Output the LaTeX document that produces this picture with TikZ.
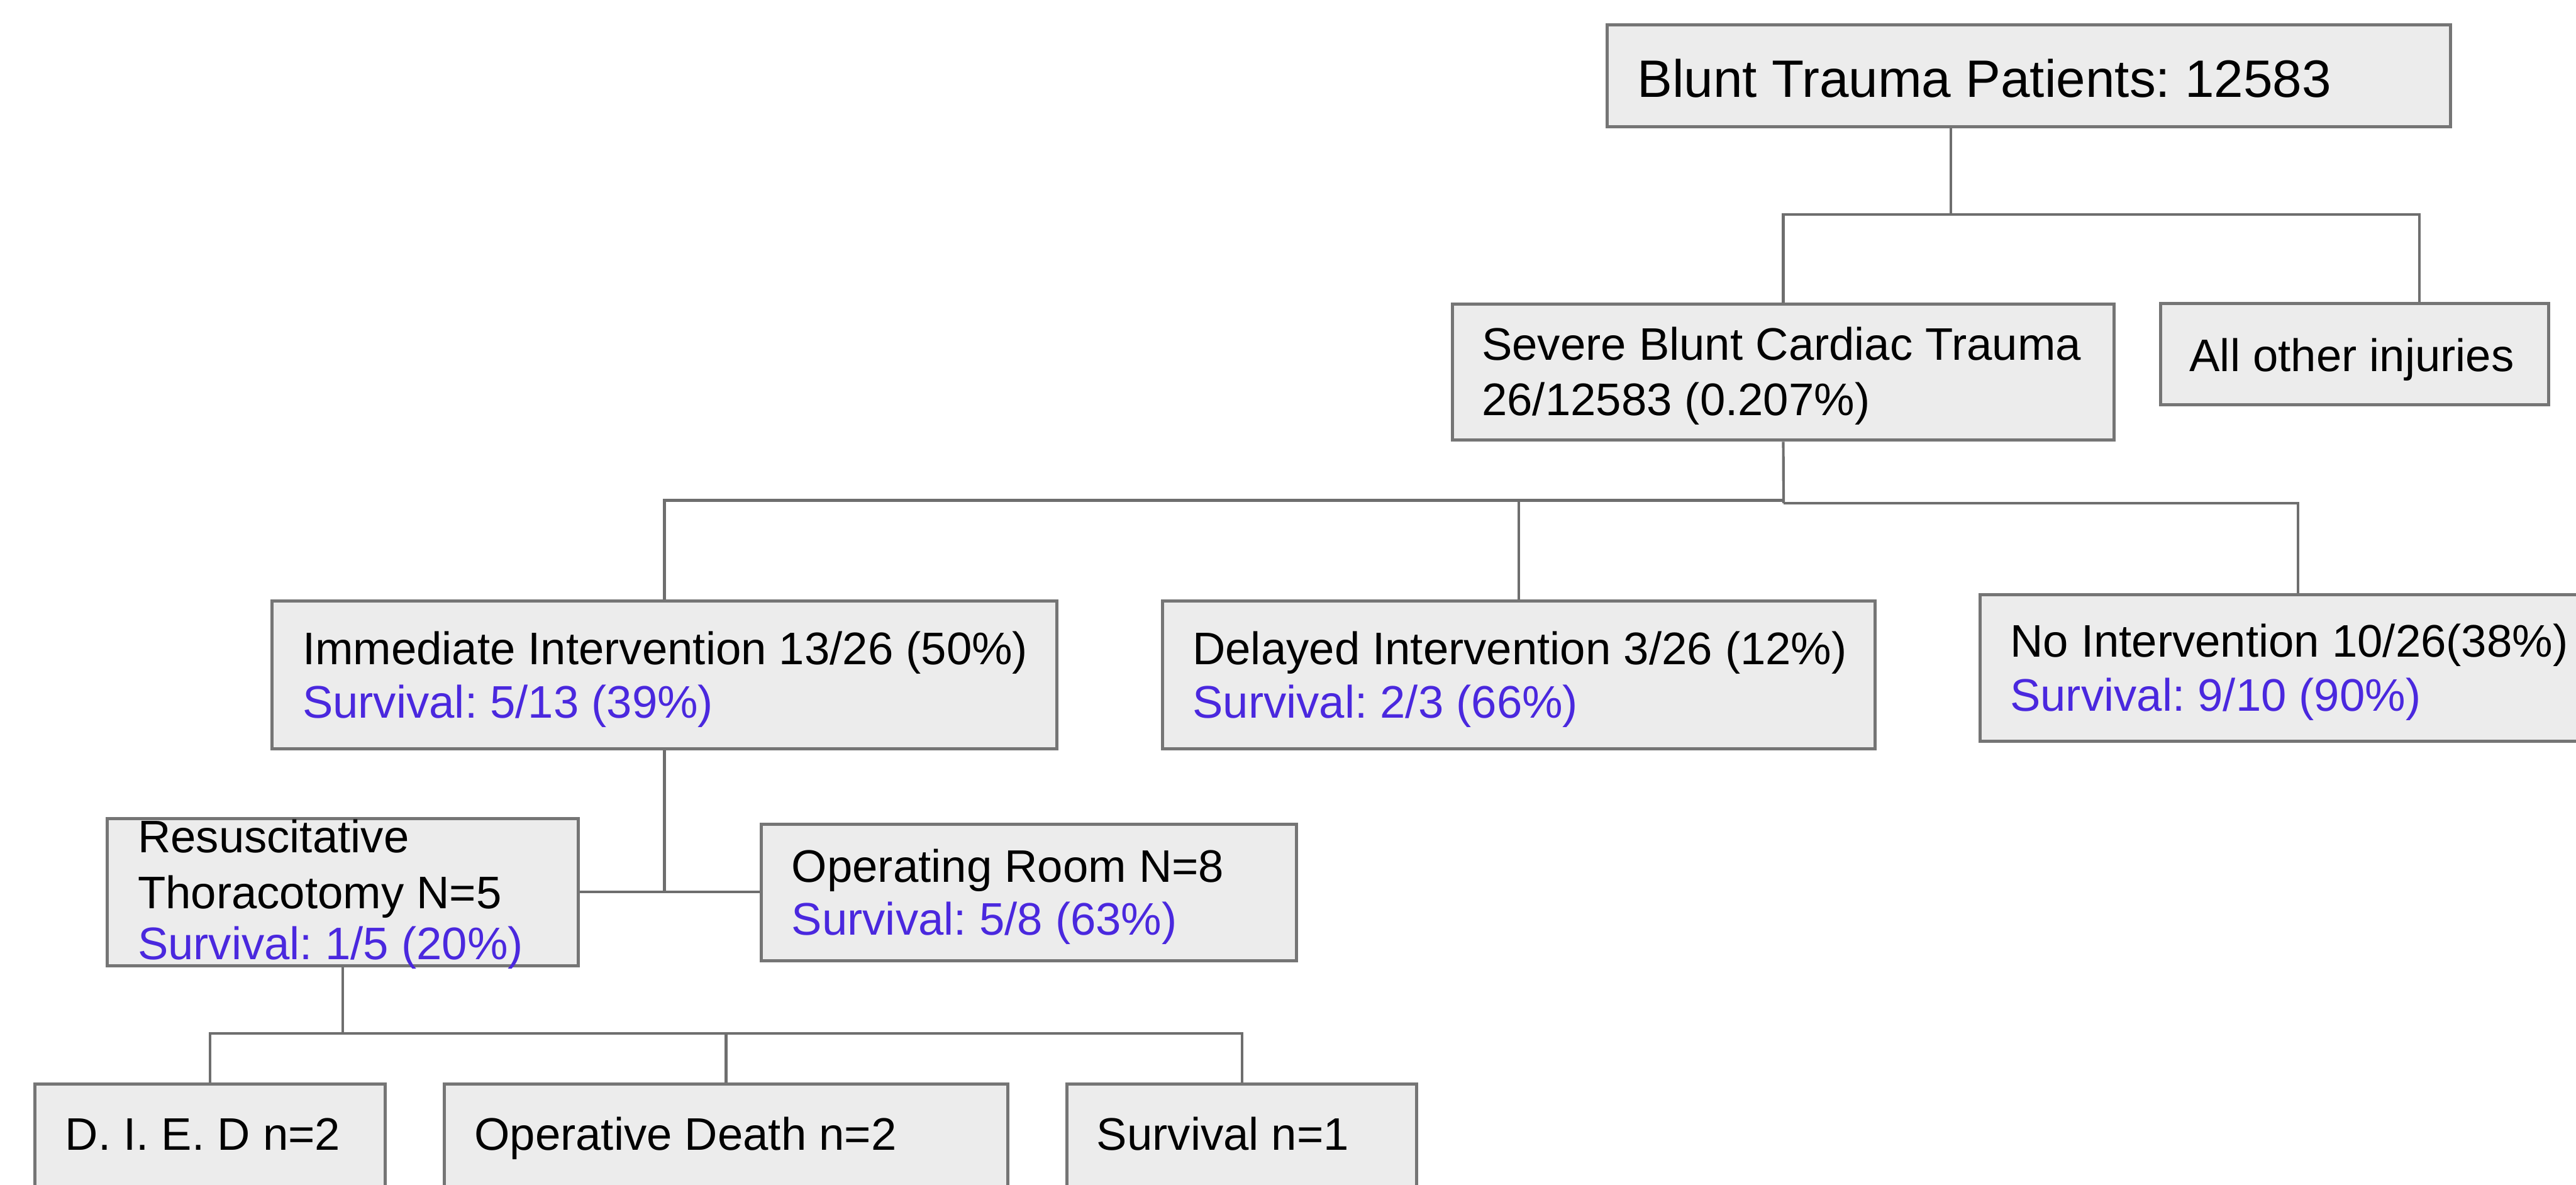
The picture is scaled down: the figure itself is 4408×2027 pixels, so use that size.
\documentclass[tikz,border=0pt]{standalone}
\usepackage{fontspec}
\setmainfont{Liberation Sans}
\usetikzlibrary{calc}
\definecolor{boxfill}{HTML}{ECECEC}
\definecolor{boxline}{HTML}{757575}
\definecolor{connline}{HTML}{6E6E6E}
\definecolor{survblue}{RGB}{74,40,222}
\frenchspacing
\tikzset{
  x=0.01cm, y=-0.01cm,
  flowbox/.style={draw=boxline, fill=boxfill, line width=0.055cm, inner sep=0pt, rectangle},
  conn/.style={draw=connline, line width=0.045cm},
  txt/.style={anchor=base west, inner sep=0pt, font=\fontsize{22.2pt}{26.2pt}\selectfont, text=black},
  bigtxt/.style={anchor=base west, inner sep=0pt, font=\fontsize{25.6pt}{30pt}\selectfont, text=black},
  surv/.style={txt, text=survblue}
}
\begin{document}
\begin{tikzpicture}
\frenchspacing
\useasboundingbox (0,0) rectangle (4408,2027);
% boxes
\node[flowbox, minimum width=14.42cm, minimum height=1.74cm] (top) at (3472,130) {};
\node[flowbox, minimum width=11.31cm, minimum height=2.33cm] (sev) at (3051.5,636.5) {};
\node[flowbox, minimum width=6.64cm, minimum height=1.73cm] (oth) at (4029,605.5) {};
\node[flowbox, minimum width=13.42cm, minimum height=2.53cm] (imm) at (1137,1154.5) {};
\node[flowbox, minimum width=12.18cm, minimum height=2.53cm] (del) at (2599,1154.5) {};
\node[flowbox, minimum width=10.71cm, minimum height=2.50cm] (noint) at (3924.5,1143) {};
\node[flowbox, minimum width=8.05cm, minimum height=2.51cm] (res) at (586.5,1526.5) {};
\node[flowbox, minimum width=9.15cm, minimum height=2.34cm] (orm) at (1760.5,1527) {};
\node[flowbox, minimum width=5.99cm, minimum height=2.00cm] (died) at (359.5,1955) {};
\node[flowbox, minimum width=9.63cm, minimum height=2.00cm] (opd) at (1242.5,1955) {};
\node[flowbox, minimum width=5.98cm, minimum height=2.00cm] (sv) at (2125,1955) {};
% junction coordinates
\coordinate (j1) at (3338,367);
\coordinate (j1r) at (4140,367);
\coordinate (j2) at (3052,856);
\coordinate (j2b) at (3052,861);
\coordinate (j2r) at (3932,861);
\coordinate (j3) at (1139,1526);
\coordinate (j4) at (586,1768);
% connectors
\draw[conn] (top.south -| j1) -- (j1);
\draw[conn] (sev.north) -- (sev.north |- j1) -- (j1r) -- (oth.north -| j1r);
\draw[conn] (sev.south) -- (j2b);
\draw[conn] (imm.north) -- (imm.north |- j2) -- (j2);
\draw[conn] (j2b) -- (j2r) -- (noint.north -| j2r);
\draw[conn] (del.north) -- (del.north |- j2);
\draw[conn] (imm.south) -- (imm.south |- j3);
\draw[conn] (res.east |- j3) -- (orm.west |- j3);
\draw[conn] (res.south) -- (res.south |- j4);
\draw[conn] (died.north) -- (died.north |- j4) -- (sv.north |- j4) -- (sv.north);
\draw[conn] (opd.north) -- (opd.north |- j4);
% texts
\node[bigtxt] (ttop) at (2801,166) {Blunt Trauma Patients: 12583};
\node[txt] (tsev1) at (2535,616) {Severe Blunt Cardiac Trauma};
\node[txt] (tsev2) at (2535,711) {26/12583 (0.207\%)};
\node[txt] (toth) at (3746,635) {All other injuries};
\node[txt] (timm1) at (517,1137) {Immediate Intervention 13/26 (50\%)};
\node[surv] (timm2) at (517,1228) {Survival: 5/13 (39\%)};
\node[txt] (tdel1) at (2040,1137) {Delayed Intervention 3/26 (12\%)};
\node[surv] (tdel2) at (2040,1228) {Survival: 2/3 (66\%)};
\node[txt] (tno1) at (3439,1124) {No Intervention 10/26(38\%)};
\node[surv] (tno2) at (3439,1217) {Survival: 9/10 (90\%)};
\node[txt] (tres1) at (235,1459) {Resuscitative};
\node[txt] (tres2) at (235,1554) {Thoracotomy N=5};
\node[surv] (tres3) at (235,1642) {Survival: 1/5 (20\%)};
\node[txt] (tor1) at (1354,1509) {Operating Room N=8};
\node[surv] (tor2) at (1354,1600) {Survival: 5/8 (63\%)};
\node[txt] (tdied) at (111,1968) {D. I. E. D n=2};
\node[txt] (topd) at (811,1968) {Operative Death n=2};
\node[txt] (tsv) at (1876,1968) {Survival n=1};
\end{tikzpicture}
\end{document}
